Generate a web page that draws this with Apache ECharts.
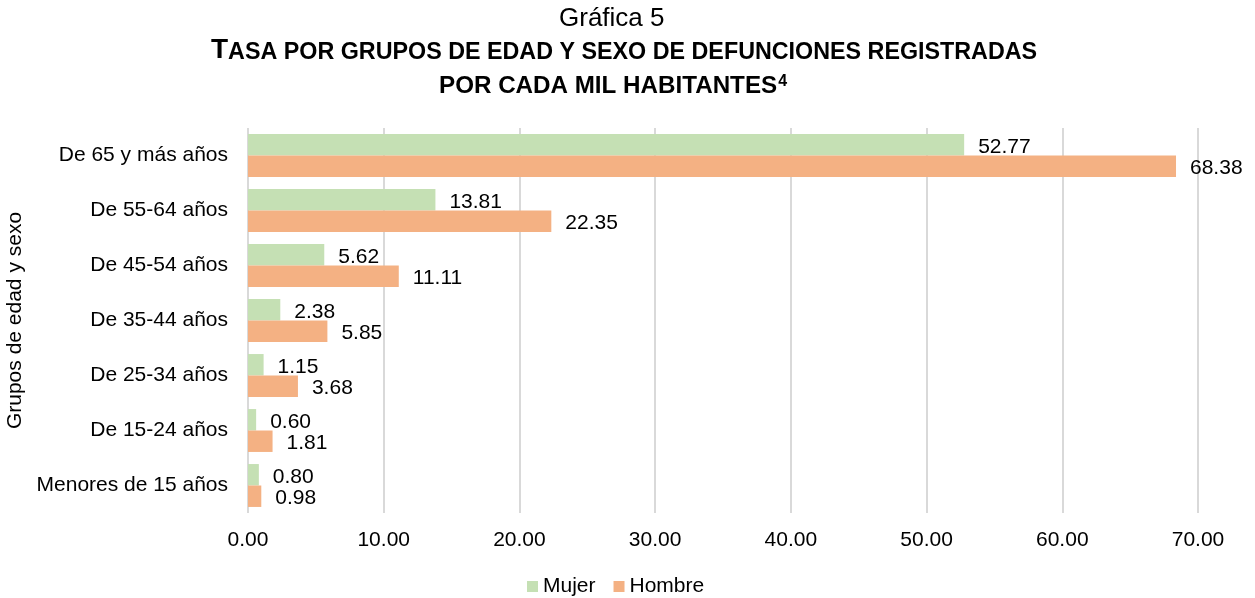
<!DOCTYPE html>
<html>
<head>
<meta charset="utf-8">
<script src="https://cdn.jsdelivr.net/npm/echarts@6/dist/echarts.min.js"></script>
<style>
html,body{margin:0;padding:0;background:#fff;}
#chart{width:1255px;height:598px;}
</style>
</head>
<body>
<div id="chart"></div>
<script>
const categories = ['De 65 y más años','De 55-64 años','De 45-54 años','De 35-44 años','De 25-34 años','De 15-24 años','Menores de 15 años'];
const mujer = [52.77, 13.81, 5.62, 2.38, 1.15, 0.60, 0.80];
const hombre = [68.38, 22.35, 11.11, 5.85, 3.68, 1.81, 0.98];
const seriesNames = ['Mujer','Hombre'];
const xTicks = {min: 0, max: 70, interval: 10};

const FF = '"Liberation Sans", Arial, sans-serif';
const chart = echarts.init(document.getElementById('chart'), null, {renderer: 'canvas'});
const labelCfg = {
  show: true, position: 'right', distance: 14, offset: [0, 2],
  fontSize: 21, fontFamily: FF, color: '#000',
  formatter: p => p.value.toFixed(2)
};
chart.setOption({
  animation: false,
  backgroundColor: '#fff',
  title: [
    {text: 'Gráfica 5', left: 559, top: 6, padding: 0,
     textStyle: {fontSize: 26, fontWeight: 'normal', color: '#000', fontFamily: FF}},
    {text: '{b|T}{s|ASA POR GRUPOS DE EDAD Y SEXO DE DEFUNCIONES REGISTRADAS}', left: 211, top: 36, padding: 0,
     textStyle: {color: '#000', rich: {
       b: {fontSize: 28, fontWeight: 'bold', fontFamily: FF, color: '#000', lineHeight: 28, verticalAlign: 'bottom'},
       s: {fontSize: 23.3, fontWeight: 'bold', fontFamily: FF, color: '#000', lineHeight: 23.3, verticalAlign: 'bottom'}
     }}},
    {text: '{s|POR CADA MIL HABITANTES}{p|4}', left: 439, top: 74, padding: 0,
     textStyle: {color: '#000', rich: {
       s: {fontSize: 24.2, fontWeight: 'bold', fontFamily: FF, color: '#000', lineHeight: 24, verticalAlign: 'middle'},
       p: {fontSize: 16, fontWeight: 'bold', fontFamily: FF, color: '#000', lineHeight: 24, verticalAlign: 'top', padding: [0,0,11,1]}
     }}}
  ],
  legend: {
    data: seriesNames, left: 527, top: 576, padding: 0,
    itemWidth: 11, itemHeight: 11, itemGap: 18, icon: 'rect',
    textStyle: {fontSize: 21, fontFamily: FF, color: '#000'}
  },
  grid: {left: 248, right: 57, top: 128, bottom: 85, containLabel: false, outerBoundsMode: 'none'},
  xAxis: {
    type: 'value', min: xTicks.min, max: xTicks.max, interval: xTicks.interval,
    axisLine: {show: false}, axisTick: {show: false},
    splitLine: {show: true, lineStyle: {color: '#d9d9d9', width: 2}},
    axisLabel: {fontSize: 21, fontFamily: FF, color: '#000', margin: 17, formatter: v => v.toFixed(2)}
  },
  yAxis: {
    type: 'category', data: categories, inverse: true,
    name: 'Grupos de edad y sexo', nameLocation: 'middle', nameGap: 221, nameRotate: 90,
    nameTextStyle: {fontSize: 21, fontFamily: FF, color: '#000'},
    axisLine: {show: false}, axisTick: {show: false},
    axisLabel: {fontSize: 21, fontFamily: FF, color: '#000', margin: 20}
  },
  series: [
    {name: 'Mujer', type: 'bar', data: mujer, barGap: '0%', barCategoryGap: '22%',
     itemStyle: {color: '#C5E0B4'}, label: labelCfg},
    {name: 'Hombre', type: 'bar', data: hombre, barGap: '0%', barCategoryGap: '22%',
     itemStyle: {color: '#F4B183'}, label: labelCfg}
  ]
});
</script>
</body>
</html>
